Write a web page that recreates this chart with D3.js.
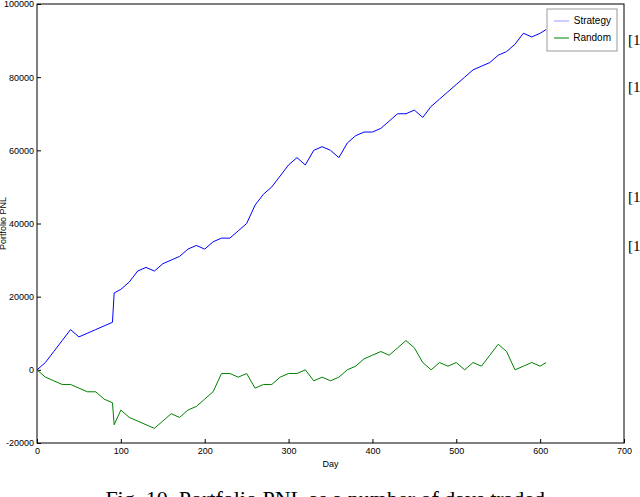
<!DOCTYPE html><html><head><script src="https://cdn.jsdelivr.net/npm/d3@7"></script>
<style>body{margin:0;background:#fff}</style></head><body><svg id="c" width="640" height="497"></svg><script>
const days=[0,10,20,30,40,50,60,70,80,90,92,100,110,120,130,140,150,160,170,180,190,200,210,220,230,240,250,260,270,280,290,300,310,320,330,340,350,360,370,380,390,400,410,420,430,440,450,460,470,480,490,500,510,520,530,540,550,560,570,580,590,600,607];
const strategy=[0,2,5,8,11,9,10,11,12,13,21,22,24,27,28,27,29,30,31,33,34,33,35,36,36,38,40,45,48,50,53,56,58,56,60,61,60,58,62,64,65,65,66,68,70,70,71,69,72,74,76,78,80,82,83,84,86,87,89,92,91,92,93].map(v=>v*1000);
const random=[0,-2,-3,-4,-4,-5,-6,-6,-8,-9,-15,-11,-13,-14,-15,-16,-14,-12,-13,-11,-10,-8,-6,-1,-1,-2,-1,-5,-4,-4,-2,-1,-1,0,-3,-2,-3,-2,0,1,3,4,5,4,6,8,6,2,0,2,1,2,0,2,1,4,7,5,0,1,2,1,2].map(v=>v*1000);
const xTicks=[0,100,200,300,400,500,600,700];
const yTicks=[-20000,0,20000,40000,60000,80000,100000];
const svg=d3.select("#c");
const L=37,R=624,T=4,B=443;
const x=d3.scaleLinear().domain([0,700]).range([L,R]);
const y=d3.scaleLinear().domain([-20000,100000]).range([B,T]);
svg.append("rect").attr("x",L).attr("y",T).attr("width",R-L).attr("height",B-T).attr("fill","none").attr("stroke","#000");
const fs="font-family:'Liberation Sans Narrow',Arial,sans-serif;font-size:9px";
svg.append("g").attr("transform",`translate(0,${B})`).call(d3.axisBottom(x).tickValues(xTicks).tickSize(-4).tickFormat(d=>String(d))).call(g=>{g.select(".domain").remove();g.selectAll("text").attr("style",fs).attr("dy","0.9em")});
svg.append("g").attr("transform",`translate(${L},0)`).call(d3.axisLeft(y).tickValues(yTicks).tickSize(-4).tickFormat(d=>String(d))).call(g=>{g.select(".domain").remove();g.selectAll("text").attr("style",fs)});
svg.append("text").attr("x",(L+R)/2).attr("y",467).attr("text-anchor","middle").attr("style",fs).text("Day");
svg.append("text").attr("transform",`translate(6,${(T+B)/2}) rotate(-90)`).attr("text-anchor","middle").attr("style",fs).text("Portfolio PNL");
const line=d3.line().x((d,i)=>x(days[i])).y(d=>y(d));
svg.append("path").datum(strategy).attr("d",line).attr("fill","none").attr("stroke","#0000ff").attr("stroke-width",1);
svg.append("path").datum(random).attr("d",line).attr("fill","none").attr("stroke","#008000").attr("stroke-width",1);
const lg=svg.append("g").attr("transform","translate(547,9)");
lg.append("rect").attr("width",70).attr("height",42).attr("fill","#fff").attr("stroke","#999");
[["Strategy","#9999ff"],["Random","#008000"]].forEach((s,i)=>{lg.append("line").attr("x1",7).attr("x2",22).attr("y1",12+i*17).attr("y2",12+i*17).attr("stroke",s[1]);
lg.append("text").attr("x",64).attr("y",15+i*17).attr("text-anchor","end").attr("style",fs+";font-size:10px").text(s[0]);});
["[1","[1","[1","[1"].forEach((t,i)=>svg.append("text").attr("x",628).attr("y",[45,92,202,251][i]).attr("style","font-family:'Liberation Serif';font-size:15px").text(t));
svg.append("text").attr("x",328).attr("y",506).attr("text-anchor","middle").attr("style","font-family:'Liberation Serif';font-size:22px").text("Fig. 10.  Portfolio PNL as a number of days traded.");
</script></body></html>
